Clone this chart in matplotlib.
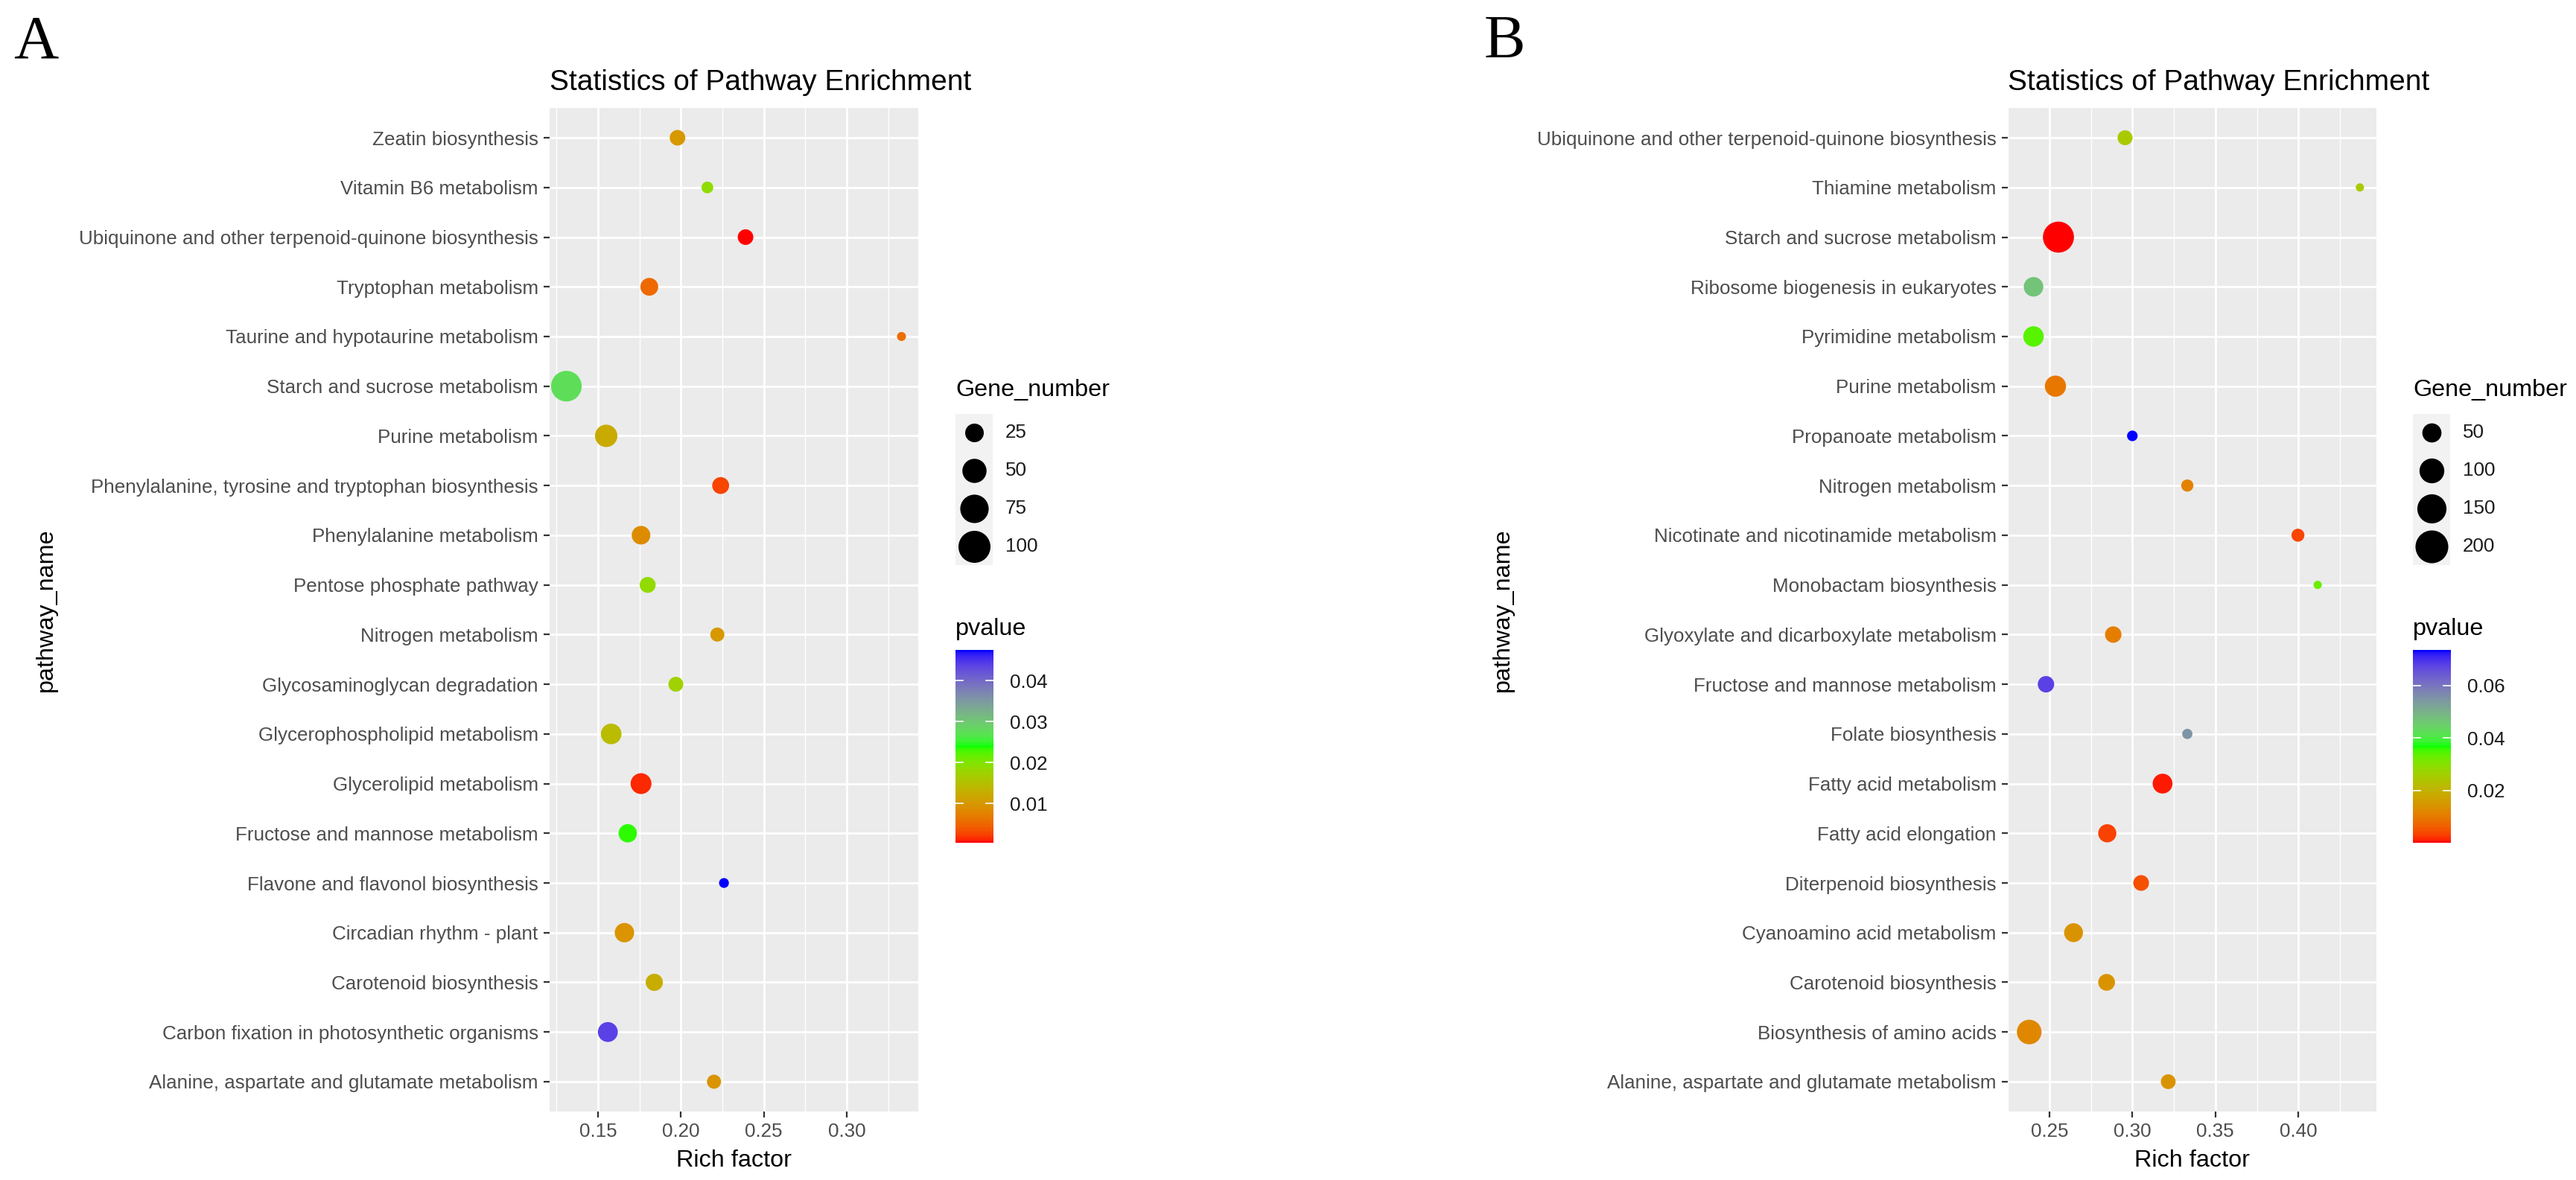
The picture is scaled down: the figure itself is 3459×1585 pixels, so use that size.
import numpy as np
import matplotlib
matplotlib.use("Agg")
import matplotlib.pyplot as plt
from matplotlib.colors import ListedColormap, Normalize
from matplotlib.patches import Rectangle

plt.rcParams['font.family'] = ['Liberation Sans', 'DejaVu Sans']

W, H = 3459, 1585
DPI = 100

## DATA - panel A (rows listed top to bottom as drawn)
pathways_a = ["Zeatin biosynthesis",
              "Vitamin B6 metabolism",
              "Ubiquinone and other terpenoid-quinone biosynthesis",
              "Tryptophan metabolism",
              "Taurine and hypotaurine metabolism",
              "Starch and sucrose metabolism",
              "Purine metabolism",
              "Phenylalanine, tyrosine and tryptophan biosynthesis",
              "Phenylalanine metabolism",
              "Pentose phosphate pathway",
              "Nitrogen metabolism",
              "Glycosaminoglycan degradation",
              "Glycerophospholipid metabolism",
              "Glycerolipid metabolism",
              "Fructose and mannose metabolism",
              "Flavone and flavonol biosynthesis",
              "Circadian rhythm - plant",
              "Carotenoid biosynthesis",
              "Carbon fixation in photosynthetic organisms",
              "Alanine, aspartate and glutamate metabolism"]
rich_a = [0.198, 0.216, 0.239, 0.181, 0.333, 0.131, 0.155, 0.224, 0.176, 0.180,
          0.222, 0.197, 0.158, 0.176, 0.168, 0.226, 0.166, 0.184, 0.156, 0.220]
genes_a = [15, 6, 15, 22, 2, 90, 41, 19, 25, 16,
           11, 13, 33, 34, 24, 3, 28, 20, 30, 11]
pvals_a = [0.0098, 0.0188, 0.0004, 0.0050, 0.0055, 0.0275, 0.0120, 0.0025, 0.0085, 0.0185,
           0.0098, 0.0175, 0.0145, 0.0012, 0.0235, 0.0475, 0.0095, 0.0125, 0.0440, 0.0095]
xticks_a = [0.15, 0.20, 0.25, 0.30]
size_breaks_a = [25, 50, 75, 100]
p_ticks_a = [0.01, 0.02, 0.03, 0.04]

## DATA - panel B
pathways_b = ["Ubiquinone and other terpenoid-quinone biosynthesis",
              "Thiamine metabolism",
              "Starch and sucrose metabolism",
              "Ribosome biogenesis in eukaryotes",
              "Pyrimidine metabolism",
              "Purine metabolism",
              "Propanoate metabolism",
              "Nitrogen metabolism",
              "Nicotinate and nicotinamide metabolism",
              "Monobactam biosynthesis",
              "Glyoxylate and dicarboxylate metabolism",
              "Fructose and mannose metabolism",
              "Folate biosynthesis",
              "Fatty acid metabolism",
              "Fatty acid elongation",
              "Diterpenoid biosynthesis",
              "Cyanoamino acid metabolism",
              "Carotenoid biosynthesis",
              "Biosynthesis of amino acids",
              "Alanine, aspartate and glutamate metabolism"]
rich_b = [0.2956, 0.437, 0.2555, 0.2405, 0.2405, 0.2537, 0.300, 0.3331, 0.3997, 0.4116,
          0.2885, 0.248, 0.3331, 0.3182, 0.2849, 0.3053, 0.2646, 0.2845, 0.2379, 0.3216]
genes_b = [24, 2, 175, 53, 60, 66, 7, 12, 15, 2,
           32, 32, 6, 55, 43, 28, 48, 34, 98, 23]
pvals_b = [0.025, 0.025, 0.0001, 0.047, 0.034, 0.0095, 0.0735, 0.011, 0.0035, 0.033,
           0.0105, 0.068, 0.055, 0.0008, 0.003, 0.0045, 0.014, 0.014, 0.012, 0.014]
xticks_b = [0.25, 0.30, 0.35, 0.40]
size_breaks_b = [50, 100, 150, 200]
p_ticks_b = [0.02, 0.04, 0.06]


# --------------------------------------------------------------------------
# red -> green -> blue gradient interpolated in Lab space (like ggplot gradientn)
M_RGB2XYZ = np.array([[0.4124564, 0.3575761, 0.1804375],
                      [0.2126729, 0.7151522, 0.0721750],
                      [0.0193339, 0.1191920, 0.9503041]])
WHITE = np.array([0.95047, 1.0, 1.08883])


def srgb_to_lab(rgb):
    rgb = np.asarray(rgb, float)
    lin = np.where(rgb <= 0.04045, rgb / 12.92, ((rgb + 0.055) / 1.055) ** 2.4)
    xyz = lin @ M_RGB2XYZ.T / WHITE
    d = 6 / 29
    f = np.where(xyz > d ** 3, np.cbrt(xyz), xyz / (3 * d * d) + 4 / 29)
    return np.stack([116 * f[..., 1] - 16,
                     500 * (f[..., 0] - f[..., 1]),
                     200 * (f[..., 1] - f[..., 2])], -1)


def lab_to_srgb(lab):
    fy = (lab[..., 0] + 16) / 116
    fx = fy + lab[..., 1] / 500
    fz = fy - lab[..., 2] / 200
    d = 6 / 29

    def finv(t):
        return np.where(t > d, t ** 3, 3 * d * d * (t - 4 / 29))

    xyz = np.stack([finv(fx), finv(fy), finv(fz)], -1) * WHITE
    lin = np.clip(xyz @ np.linalg.inv(M_RGB2XYZ).T, 0, 1)
    rgb = np.where(lin <= 0.0031308, 12.92 * lin, 1.055 * lin ** (1 / 2.4) - 0.055)
    return np.clip(rgb, 0, 1)


stops = srgb_to_lab([[1, 0, 0], [0, 1, 0], [0, 0, 1]])
t = np.linspace(0, 1, 256)
lab = np.empty((256, 3))
for k in range(3):
    lab[:, k] = np.interp(t, [0, 0.5, 1], stops[:, k])
cmap = ListedColormap(lab_to_srgb(lab))


def fig_box(x0, y0, x1, y1):
    return [x0 / W, 1 - y1 / H, (x1 - x0) / W, (y1 - y0) / H]


def diam_to_s(d):
    return (np.asarray(d) * 72.0 / DPI) ** 2


fig = plt.figure(figsize=(W / DPI, H / DPI), dpi=DPI)

AXIS_TXT = 18.7
TITLE_TXT = 28
LAB_TXT = 23.3


def draw_panel(left, names, rich, genes, pvals, xticks, size_a, size_b,
               size_breaks, p_ticks, legend_x, ylab_x, letter, letter_x):
    right = left + 495
    ax = fig.add_axes(fig_box(left, 145, right, 1493))
    n = len(names)
    ypos = np.arange(n)[::-1]
    norm = Normalize(min(pvals), max(pvals))
    diam = size_a + size_b * np.sqrt(np.array(genes))
    ax.scatter(rich, ypos, s=diam_to_s(diam), c=pvals, cmap=cmap, norm=norm,
               linewidths=0, zorder=3)

    lo, hi = min(rich), max(rich)
    pad = 0.05 * (hi - lo)
    ax.set_xlim(lo - pad, hi + pad)
    ax.set_ylim(-0.6, n - 0.4)
    ax.set_yticks(ypos)
    ax.set_yticklabels(names)
    ax.set_xticks(xticks)
    ax.set_xticklabels([f"{v:.2f}" for v in xticks])
    minors = np.arange(xticks[0] - 0.025, hi + pad, 0.05)
    ax.set_xticks(minors, minor=True)

    ax.set_facecolor('#EBEBEB')
    ax.set_axisbelow(True)
    ax.grid(which='major', color='white', linewidth=2.0)
    ax.grid(which='minor', axis='x', color='white', linewidth=1.0)
    for sp in ax.spines.values():
        sp.set_visible(False)
    ax.tick_params(which='major', length=6, width=1.6, color='#333333',
                   labelsize=AXIS_TXT, labelcolor='#4D4D4D', pad=5)
    ax.tick_params(which='minor', length=0)

    # titles
    fig.text(left / W, 1 - 121 / H, "Statistics of Pathway Enrichment",
             fontsize=TITLE_TXT, ha='left', va='baseline')
    fig.text((left + right) / 2 / W, 1 - 1567 / H, "Rich factor",
             fontsize=LAB_TXT, ha='center', va='baseline')
    fig.text(ylab_x / W, 1 - 819 / H, "pathway_name", fontsize=LAB_TXT,
             rotation=90, ha='center', va='center')
    fig.text(letter_x / W, 1 - 77 / H, letter, fontsize=60,
             family='Liberation Serif', ha='left', va='baseline')

    # size legend
    lx = legend_x
    lax = fig.add_axes(fig_box(lx, 490, lx + 200, 780))
    lax.set_xlim(lx, lx + 200)
    lax.set_ylim(780, 490)
    lax.axis('off')
    lax.text(lx, 532, "Gene_number", fontsize=LAB_TXT, ha='left', va='baseline')
    key_h = (759 - 556) / len(size_breaks)
    for i, v in enumerate(size_breaks):
        y0 = 556 + i * key_h
        lax.add_patch(Rectangle((lx, y0), 50, key_h, facecolor='#F2F2F2',
                                edgecolor='none'))
        lax.scatter([lx + 25], [y0 + key_h / 2],
                    s=diam_to_s(size_a + size_b * np.sqrt(v)),
                    color='black', linewidths=0, zorder=3)
        lax.text(lx + 67, y0 + key_h / 2, str(v), fontsize=AXIS_TXT,
                 ha='left', va='center', color='#1A1A1A')

    # colour bar
    fig.text(lx / W, 1 - 853 / H, "pvalue", fontsize=LAB_TXT,
             ha='left', va='baseline')
    cax = fig.add_axes(fig_box(lx, 873, lx + 51, 1132))
    grad = np.linspace(norm.vmin, norm.vmax, 300).reshape(-1, 1)
    cax.imshow(grad, aspect='auto', cmap=cmap, norm=norm, origin='lower',
               extent=[0, 1, norm.vmin, norm.vmax])
    cax.set_xlim(0, 1)
    cax.set_ylim(norm.vmin, norm.vmax)
    for p in p_ticks:
        cax.plot([0, 0.2], [p, p], color='white', lw=1.2)
        cax.plot([0.8, 1], [p, p], color='white', lw=1.2)
    cax.set_xticks([])
    cax.yaxis.tick_right()
    cax.set_yticks(p_ticks)
    cax.set_yticklabels([f"{p:.2f}" for p in p_ticks])
    cax.tick_params(axis='y', length=0, pad=16, labelsize=AXIS_TXT,
                    labelcolor='#1A1A1A')
    for sp in cax.spines.values():
        sp.set_visible(False)


draw_panel(738, pathways_a, rich_a, genes_a, pvals_a, xticks_a, 7.0, 3.6,
           size_breaks_a, p_ticks_a, 1283, 62, "A", 18)
draw_panel(2696, pathways_b, rich_b, genes_b, pvals_b, xticks_b, 7.4, 2.59,
           size_breaks_b, p_ticks_b, 3240, 2018, "B", 1993)

fig.savefig("out.png", dpi=DPI, facecolor='white')
